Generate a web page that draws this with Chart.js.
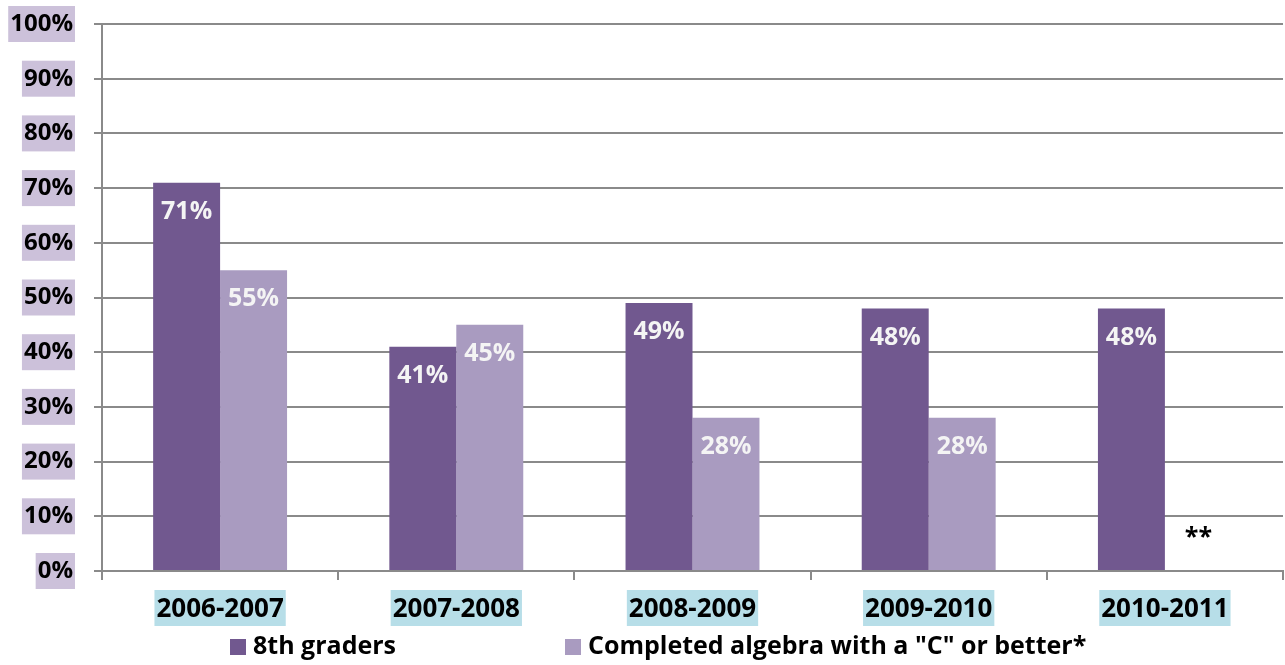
<!DOCTYPE html>
<html>
<head>
<meta charset="utf-8">
<script src="https://cdn.jsdelivr.net/npm/chart.js@4.4.1/dist/chart.umd.min.js"></script>
<style>
  html, body { margin: 0; padding: 0; background: #fff; }
</style>
</head>
<body>
<canvas id="algebraChart" width="1285" height="665"></canvas>
<script>
// values
const years = ['2006-2007', '2007-2008', '2008-2009', '2009-2010', '2010-2011'];
const eighthGraders = [71, 41, 49, 48, 48];
const completedAlgebra = [55, 45, 28, 28, null];   // 2010-2011 not yet available
const seriesNames = ['8th graders', 'Completed algebra with a "C" or better*'];
const missingNote = '**';
const missingNoteLevel = 6;

const FONT = '"Open Sans", "DejaVu Sans", sans-serif';
const GRID = '#8a8a8a';
const colors = ['#71588F', '#A99BC0'];

// light highlight boxes behind the tick labels
const labelBoxes = {
  id: 'labelBoxes',
  beforeDraw(chart) {
    const ctx = chart.ctx;
    const y = chart.scales.y, x = chart.scales.x;
    ctx.save();
    ctx.font = 'bold 24px ' + FONT;
    ctx.fillStyle = '#CCC1DA';
    y.ticks.forEach((t, i) => {
      const py = y.getPixelForTick(i);
      const w = ctx.measureText(t.label).width;
      const right = y.right - 8 - 21 + 2;
      ctx.fillRect(right - w - 4, py - 18, w + 4, 36);
    });
    ctx.font = 'bold 26px ' + FONT;
    ctx.fillStyle = '#B7DEE8';
    x.ticks.forEach((t, i) => {
      const px = x.getPixelForTick(i);
      const w = ctx.measureText(years[i]).width;
      ctx.fillRect(px - w / 2 - 2, x.top + 19, w + 4, 36);
    });
    ctx.restore();
  }
};

// value labels inside the bars, plus the note for the missing value
const barLabels = {
  id: 'barLabels',
  afterDatasetsDraw(chart) {
    const ctx = chart.ctx;
    ctx.save();
    ctx.font = 'bold 25px ' + FONT;
    ctx.textAlign = 'center';
    ctx.textBaseline = 'middle';
    chart.data.datasets.forEach((ds, di) => {
      chart.getDatasetMeta(di).data.forEach((bar, i) => {
        const v = ds.data[i];
        if (v == null) {
          ctx.fillStyle = '#000';
          ctx.fillText(missingNote, bar.x, chart.scales.y.getPixelForValue(missingNoteLevel));
        } else {
          ctx.fillStyle = '#f4f4f4';
          ctx.fillText(v + '%', bar.x, bar.y + 29);
        }
      });
    });
    ctx.restore();
  }
};

// legend spread out along the bottom
const bottomLegend = {
  id: 'bottomLegend',
  afterDraw(chart) {
    const ctx = chart.ctx;
    const starts = [230, 565];
    const cy = 647;
    ctx.save();
    ctx.font = 'bold 25px ' + FONT;
    ctx.textBaseline = 'middle';
    ctx.textAlign = 'left';
    chart.data.datasets.forEach((ds, i) => {
      ctx.fillStyle = ds.backgroundColor;
      ctx.fillRect(starts[i], cy - 8, 16, 16);
      ctx.fillStyle = '#000';
      ctx.fillText(ds.label, starts[i] + 23, cy);
    });
    ctx.restore();
  }
};

new Chart(document.getElementById('algebraChart'), {
  type: 'bar',
  data: {
    labels: years,
    datasets: [
      { label: seriesNames[0], data: eighthGraders, backgroundColor: colors[0] },
      { label: seriesNames[1], data: completedAlgebra, backgroundColor: colors[1] }
    ]
  },
  options: {
    responsive: false,
    animation: false,
    layout: { padding: { top: 24, right: 2, left: 0, bottom: 0 } },
    datasets: { bar: { barPercentage: 1, categoryPercentage: 0.567 } },
    plugins: { legend: { display: false }, tooltip: { enabled: false } },
    scales: {
      y: {
        min: 0, max: 100,
        afterFit(scale) {
          scale.width = 102;
          scale.paddingTop = 0;
          scale.paddingBottom = 0;
        },
        ticks: {
          stepSize: 10,
          padding: 21,
          color: '#000',
          font: { family: FONT, size: 24, weight: 'bold' },
          callback: v => v + '%'
        },
        grid: { color: GRID, lineWidth: 2, tickLength: 8 },
        border: { color: GRID, width: 2 }
      },
      x: {
        afterFit(scale) { scale.height = 94; },
        ticks: {
          padding: 14,
          color: '#000',
          font: { family: FONT, size: 26, weight: 'bold' }
        },
        grid: { offset: true, drawOnChartArea: false, color: GRID, lineWidth: 2, tickLength: 9 },
        border: { color: GRID, width: 2 }
      }
    }
  },
  plugins: [labelBoxes, barLabels, bottomLegend]
});
</script>
</body>
</html>
